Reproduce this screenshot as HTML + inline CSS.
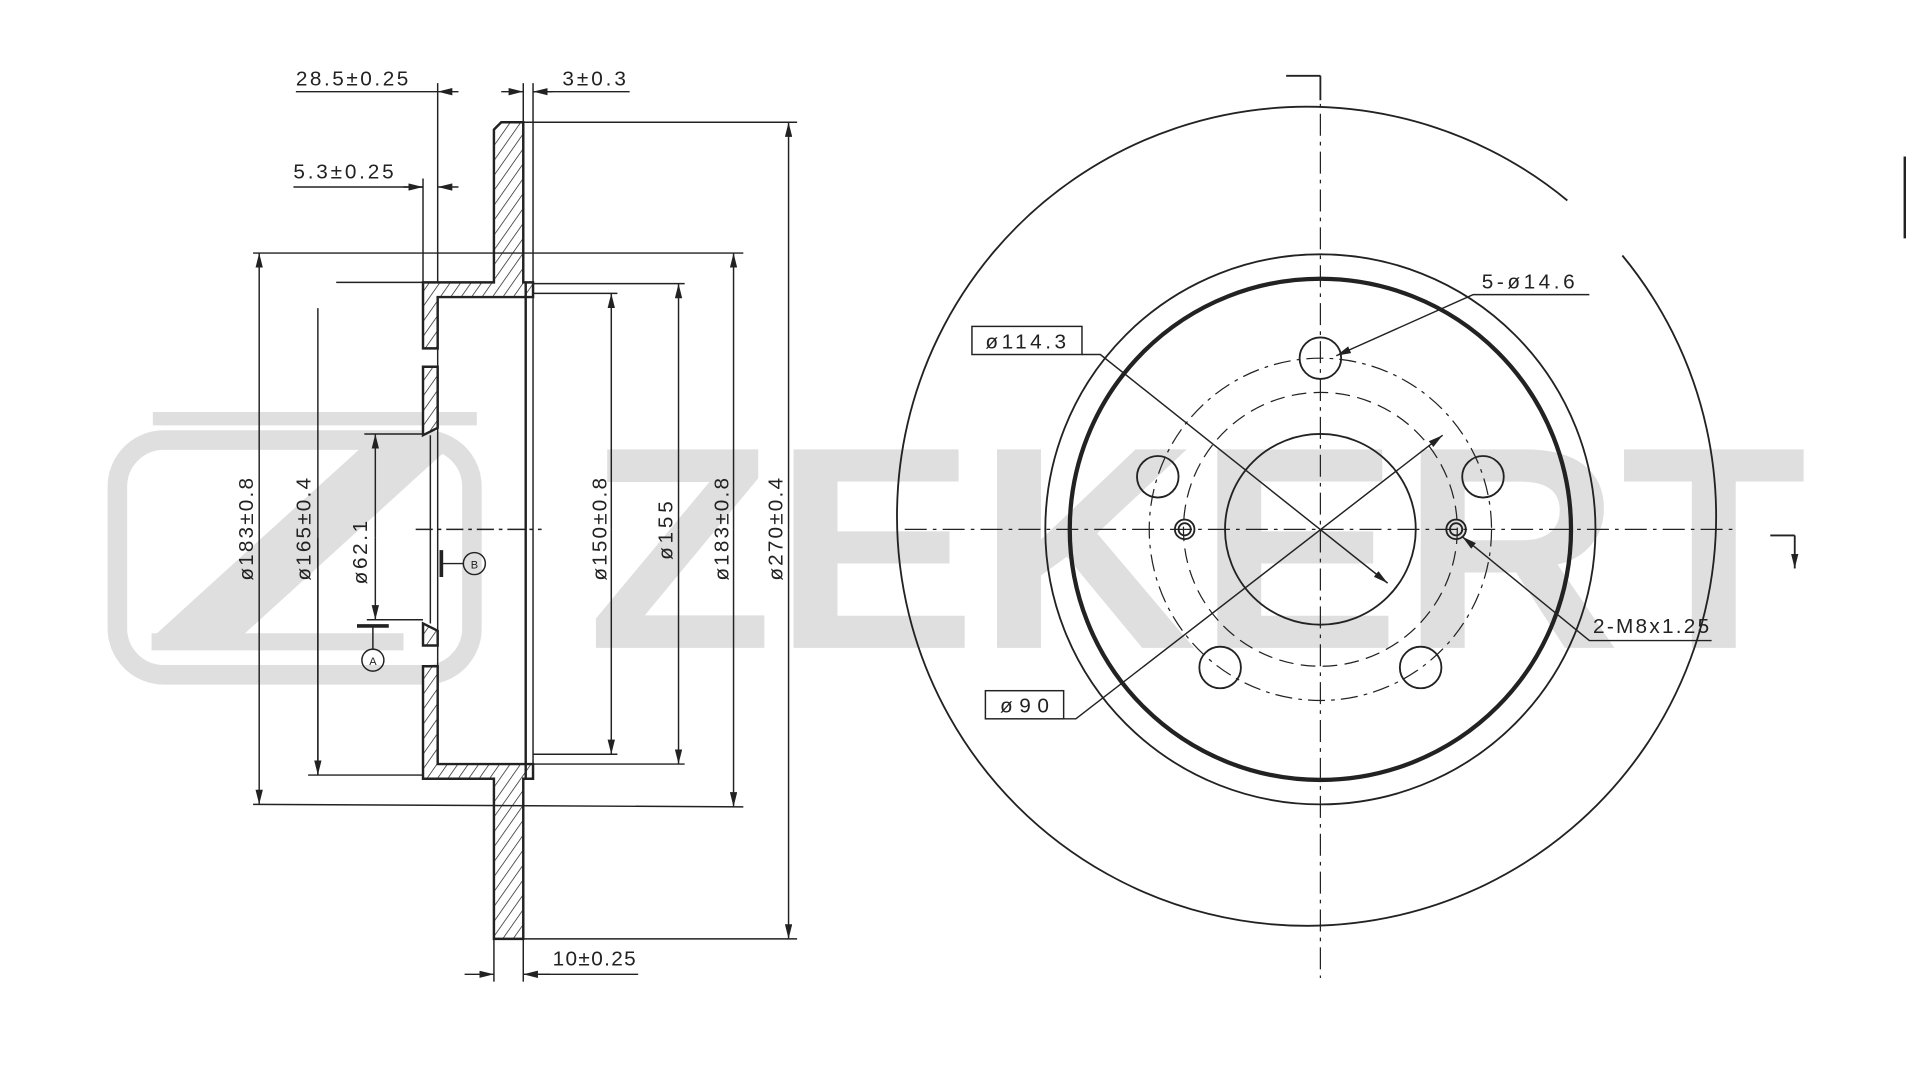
<!DOCTYPE html>
<html><head><meta charset="utf-8"><style>
html,body{margin:0;padding:0;background:#fff;}
svg{display:block;}
text{font-family:"Liberation Sans",sans-serif;font-size:17px;fill:#222;}
</style></head><body>
<svg width="1917" height="1077" viewBox="0 0 1568 881" preserveAspectRatio="none" xmlns="http://www.w3.org/2000/svg">
<defs>
<pattern id="h" width="7" height="7" patternUnits="userSpaceOnUse" patternTransform="rotate(35)">
<rect width="7" height="7" fill="#fff"/><line x1="0" y1="0" x2="0" y2="7" stroke="#222" stroke-width="1.2"/>
</pattern>
<marker id="a" markerWidth="12" markerHeight="6" refX="12" refY="3" orient="auto" markerUnits="userSpaceOnUse"><path d="M0,0 L12,3 L0,6z" fill="#222"/></marker>
</defs>
<!-- watermark -->
<g fill="#dfdfdf">
<rect x="96" y="360" width="290" height="192" rx="38" fill="none" stroke="#dfdfdf" stroke-width="16"/>
<polygon points="125,337 390,337 390,348 125,348"/>
<polygon points="300,362 372,362 196,522 124,522"/>
<polygon points="124,518 330,518 330,532 124,532"/>
<text x="480" y="530" textLength="998" lengthAdjust="spacingAndGlyphs" style="font-size:236px;font-weight:bold;fill:#dfdfdf">ZEKERT</text>
</g>
<g stroke="#222" fill="none" stroke-width="1.2">
<!-- section profile -->
<path d="M410,100 L428,100 L428,231 L436,231 L436,243 L358,243 L358,285 L346,285 L346,231 L404,231 L404,106 Z" fill="url(#h)" stroke-width="2"/>
<path d="M346,300 L358,300 L358,350 L346,356 Z" fill="url(#h)" stroke-width="2"/>
<path d="M346,510 L358,516 L358,528 L346,528 Z" fill="url(#h)" stroke-width="2"/>
<path d="M346,545 L358,545 L358,625 L436,625 L436,637 L428,637 L428,768 L404,768 L404,637 L346,637 Z" fill="url(#h)" stroke-width="2"/>
<line x1="358" y1="243" x2="358" y2="625"/><line x1="352" y1="356" x2="352" y2="510"/>
<line x1="430" y1="231" x2="430" y2="637" stroke-width="2"/><line x1="436" y1="243" x2="436" y2="625"/>
<line x1="340" y1="433" x2="443" y2="433" stroke-dasharray="14,4,3,4"/>
<!-- ext lines -->
<line x1="358" y1="68" x2="358" y2="231"/><line x1="428" y1="68" x2="428" y2="100"/><line x1="436" y1="68" x2="436" y2="231"/>
<line x1="346" y1="146" x2="346" y2="231"/>
<line x1="404" y1="768" x2="404" y2="803"/><line x1="428" y1="768" x2="428" y2="803"/>
<line x1="428" y1="100" x2="652" y2="100"/><line x1="428" y1="768" x2="652" y2="768"/>
<line x1="207" y1="207" x2="608" y2="207"/><line x1="207" y1="658" x2="608" y2="660"/>
<line x1="275" y1="231" x2="346" y2="231"/><line x1="252" y1="634" x2="346" y2="634"/>
<line x1="436" y1="240" x2="505" y2="240"/><line x1="436" y1="617" x2="505" y2="617"/>
<line x1="436" y1="232" x2="560" y2="232"/><line x1="436" y1="625" x2="560" y2="625"/>
<line x1="298" y1="355" x2="346" y2="355"/><line x1="300" y1="507" x2="346" y2="507"/>
<!-- dim lines -->
<line x1="242" y1="75" x2="358" y2="75" marker-start="none"/><line x1="375" y1="75" x2="358" y2="75" marker-end="url(#a)"/>
<line x1="410" y1="75" x2="428" y2="75" marker-end="url(#a)"/><line x1="452" y1="75" x2="436" y2="75" marker-end="url(#a)"/><line x1="436" y1="75" x2="515" y2="75"/>
<line x1="240" y1="153" x2="346" y2="153"/><line x1="330" y1="153" x2="346" y2="153" marker-end="url(#a)"/><line x1="375" y1="153" x2="358" y2="153" marker-end="url(#a)"/>
<line x1="380" y1="797" x2="404" y2="797" marker-end="url(#a)"/><line x1="450" y1="797" x2="428" y2="797" marker-end="url(#a)"/><line x1="428" y1="797" x2="522" y2="797"/>
<line x1="212" y1="433" x2="212" y2="207" marker-end="url(#a)"/><line x1="212" y1="433" x2="212" y2="658" marker-end="url(#a)"/>
<line x1="260" y1="252" x2="260" y2="634" /><line x1="260" y1="440" x2="260" y2="634" marker-end="url(#a)"/>
<line x1="307" y1="440" x2="307" y2="355" marker-end="url(#a)"/><line x1="307" y1="440" x2="307" y2="507" marker-end="url(#a)"/>
<line x1="500" y1="433" x2="500" y2="240" marker-end="url(#a)"/><line x1="500" y1="433" x2="500" y2="617" marker-end="url(#a)"/>
<line x1="555" y1="433" x2="555" y2="232" marker-end="url(#a)"/><line x1="555" y1="433" x2="555" y2="625" marker-end="url(#a)"/>
<line x1="600" y1="433" x2="600" y2="207" marker-end="url(#a)"/><line x1="600" y1="433" x2="600" y2="660" marker-end="url(#a)"/>
<line x1="645" y1="433" x2="645" y2="100" marker-end="url(#a)"/><line x1="645" y1="433" x2="645" y2="768" marker-end="url(#a)"/>
<!-- datum symbols -->
<line x1="361" y1="450" x2="361" y2="472" stroke-width="3"/><line x1="361" y1="461" x2="379" y2="461"/><circle cx="388" cy="461" r="9"/>
<line x1="292" y1="512" x2="318" y2="512" stroke-width="3"/><line x1="305" y1="512" x2="305" y2="531"/><circle cx="305" cy="540" r="9"/>
</g>
<text x="385" y="465" style="font-size:9px">B</text><text x="302" y="544" style="font-size:9px">A</text>
<text x="242" y="70" textLength="92">28.5±0.25</text>
<text x="460" y="70" textLength="52">3±0.3</text>
<text x="240" y="146" textLength="82">5.3±0.25</text>
<text x="452" y="790" textLength="68">10±0.25</text>
<g>
<text transform="translate(207,475) rotate(-90)" textLength="84">ø183±0.8</text>
<text transform="translate(254,475) rotate(-90)" textLength="84">ø165±0.4</text>
<text transform="translate(300,478) rotate(-90)" textLength="52">ø62.1</text>
<text transform="translate(496,475) rotate(-90)" textLength="84">ø150±0.8</text>
<text transform="translate(550,458) rotate(-90)" textLength="48">ø155</text>
<text transform="translate(596,475) rotate(-90)" textLength="84">ø183±0.8</text>
<text transform="translate(640,475) rotate(-90)" textLength="84">ø270±0.4</text>
</g>
<!-- right view -->
<g stroke="#222" fill="none" stroke-width="1.5">
<path d="M1327,209 A335,335 0 1 1 1282,164"/>
<circle cx="1080" cy="433" r="225"/>
<circle cx="1080" cy="433" r="205" stroke-width="3.5"/>
<circle cx="1080" cy="433" r="78"/>
<circle cx="1080" cy="433" r="140" stroke-width="1" stroke-dasharray="14,5,3,5"/>
<circle cx="1080" cy="433" r="112" stroke-width="1" stroke-dasharray="12,6"/>
<circle cx="1080" cy="293" r="17"/><circle cx="1213" cy="390" r="17"/><circle cx="1162" cy="546" r="17"/><circle cx="998" cy="546" r="17"/><circle cx="947" cy="390" r="17"/>
<circle cx="969" cy="433" r="8"/><circle cx="969" cy="433" r="5"/><circle cx="1191" cy="433" r="8"/><circle cx="1191" cy="433" r="5"/>
<line x1="740" y1="433" x2="1420" y2="433" stroke-width="1" stroke-dasharray="18,5,3,5"/>
<line x1="1080" y1="62" x2="1080" y2="800" stroke-width="1" stroke-dasharray="18,5,3,5"/>
<line x1="1052" y1="62" x2="1080" y2="62"/><line x1="1080" y1="62" x2="1080" y2="82"/>
<line x1="1448" y1="438" x2="1468" y2="438"/><line x1="1468" y1="438" x2="1468" y2="465" marker-end="url(#a)"/>
<line x1="1558" y1="128" x2="1558" y2="195" stroke-width="2"/>
<rect x="795" y="267" width="90" height="23" stroke-width="1.2"/>
<rect x="806" y="565" width="64" height="23" stroke-width="1.2"/>
<polyline points="885,290 900,290 1135,477" stroke-width="1.2" marker-end="url(#a)"/>
<polyline points="870,588 880,588 1180,356" stroke-width="1.2" marker-end="url(#a)"/>
<polyline points="1300,241 1205,241 1093,291" stroke-width="1.2" marker-end="url(#a)"/>
<polyline points="1400,524 1300,524 1196,439" stroke-width="1.2" marker-end="url(#a)"/>
</g>
<text x="806" y="285" textLength="66">ø114.3</text>
<text x="818" y="583" textLength="40">ø90</text>
<text x="1212" y="236" textLength="76">5-ø14.6</text>
<text x="1303" y="518" textLength="95">2-M8x1.25</text>
</svg>
</body></html>
